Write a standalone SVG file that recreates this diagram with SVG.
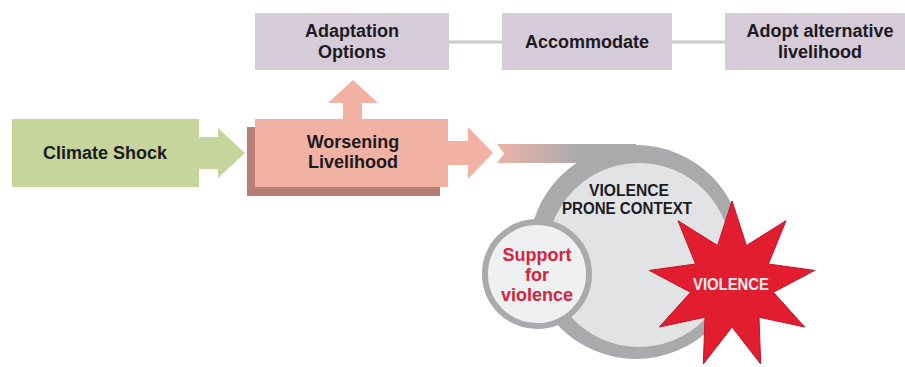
<svg xmlns="http://www.w3.org/2000/svg" width="905" height="367" viewBox="0 0 905 367">
<defs>
<style>
.t{font-family:"Liberation Sans",Arial,sans-serif;font-weight:bold;text-anchor:middle}
.dk{fill:#1c1a1e;font-size:18px}
.top{fill:#d6ccd9}
.line{stroke:#c9c9cf;stroke-width:3;fill:none}
.pink{fill:#f2b2a3}
</style>
<linearGradient id="barGrad" x1="497" y1="0" x2="580" y2="0" gradientUnits="userSpaceOnUse">
<stop offset="0" stop-color="#ecb3a6"/>
<stop offset="1" stop-color="#a9aaac"/>
</linearGradient>
<linearGradient id="redGrad" x1="590" y1="0" x2="618" y2="0" gradientUnits="userSpaceOnUse">
<stop offset="0" stop-color="#e5c6c6"/>
<stop offset="1" stop-color="#e2222f"/>
</linearGradient>
</defs>
<rect width="905" height="367" fill="#ffffff"/>

<g id="connectors">
<line class="line" x1="449" y1="42" x2="502" y2="42"/>
<line class="line" x1="672" y1="42" x2="725" y2="42"/>
<polygon fill="#c5d59b" points="198,137 218,137 218,128 245,153 218,178 218,169 198,169"/>
<polygon class="pink" points="343,120 343,103 328,103 353,80 378,103 362,103 362,120"/>
<polygon class="pink" points="447,141 468,141 468,127 493,153 468,179 468,165 447,165"/>
<polygon fill="url(#barGrad)" points="497,144 636,144 636,163 497,163 504,153.5"/>
<polygon fill="url(#redGrad)" points="592,268 614,268 614,259 638,273 614,287 614,278 592,278"/>
</g>

<g id="climate-shock">
<rect x="12" y="119" width="187" height="68" fill="#c5d59b"/>
<text class="t dk" x="105" y="159">Climate Shock</text>
</g>

<g id="worsening-livelihood">
<rect x="247" y="127" width="193" height="69" fill="#b77e74"/>
<rect x="255" y="119" width="193" height="68" class="pink"/>
<text class="t dk" x="353" y="148">Worsening</text>
<text class="t dk" x="353" y="168">Livelihood</text>
</g>

<g id="adaptation-options">
<rect x="255" y="13" width="194" height="57" class="top"/>
<text class="t dk" x="352" y="37">Adaptation</text>
<text class="t dk" x="352" y="58">Options</text>
</g>

<g id="accommodate">
<rect x="502" y="13" width="170" height="57" class="top"/>
<text class="t dk" x="587" y="48">Accommodate</text>
</g>

<g id="adopt-alternative">
<rect x="725" y="13" width="190" height="57" class="top"/>
<text class="t dk" x="820" y="37">Adopt alternative</text>
<text class="t dk" x="820" y="58">livelihood</text>
</g>

<g id="violence-prone-context">
<circle cx="636" cy="252" r="107" fill="#a9aaac"/>
<circle cx="639" cy="255" r="92" fill="#e2e3e5"/>
<text class="t" x="629" y="196" fill="#1c1a1e" font-size="16" textLength="80" lengthAdjust="spacingAndGlyphs">VIOLENCE</text>
<text class="t" x="627" y="214" fill="#1c1a1e" font-size="16" textLength="130" lengthAdjust="spacingAndGlyphs">PRONE CONTEXT</text>
</g>

<g id="support-for-violence">
<circle cx="537" cy="274" r="52" fill="#eff0f1" stroke="#a9aaac" stroke-width="6"/>
<text class="t" x="537" y="261" fill="#d9233b" font-size="18">Support</text>
<text class="t" x="537" y="281" fill="#d9233b" font-size="18">for</text>
<text class="t" x="537" y="301" fill="#d9233b" font-size="18">violence</text>
</g>

<g id="violence">
<polygon fill="#e21d30" stroke="#c4122a" stroke-width="1" stroke-linejoin="miter" points="732,201 746.4,245.5 786,220.7 768.4,264 814.7,270.4 773.4,292.3 804.7,327 759,317.2 760.7,364 732,327 703.3,364 705,317.2 659.3,327 690.6,292.3 649.3,270.4 695.6,264 678,220.7 717.6,245.5"/>
<text class="t" x="731" y="290" fill="#f6eeee" font-size="16" textLength="76" lengthAdjust="spacingAndGlyphs">VIOLENCE</text>
</g>
</svg>
